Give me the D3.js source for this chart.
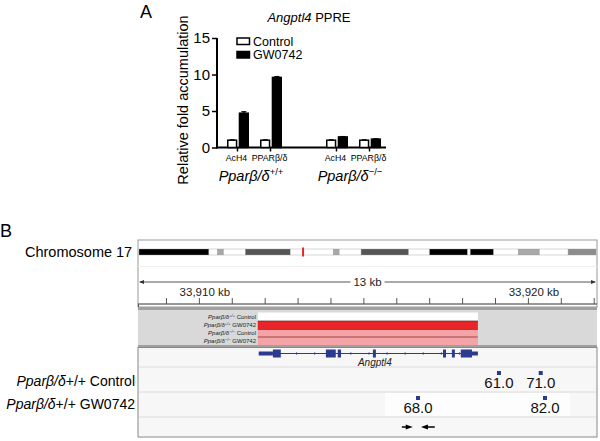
<!DOCTYPE html>
<html>
<head>
<meta charset="utf-8">
<script src="https://cdn.jsdelivr.net/npm/d3@7"></script>
<style>
  body { margin: 0; background: #fff; }
  svg { font-family: "Liberation Sans", Arial, sans-serif; display: block; }
</style>
</head>
<body>
<svg id="fig" width="600" height="441"></svg>
<script>
// ---------- panel A data ----------
var slots = ["wt_AcH4", "wt_PPAR", "gap", "ko_AcH4", "ko_PPAR"];
var slotLabels = ["AcH4", "PPARβ/δ", "", "AcH4", "PPARβ/δ"];
var series = ["Control", "GW0742"];
var controlValues = [1.0, 1.0, null, 1.0, 1.0];
var controlErr = [0.05, 0.05, null, 0.05, 0.05];
var gwValues = [4.7, 9.6, null, 1.45, 1.15];
var gwErr = [0.2, 0.12, null, 0.05, 0.05];
var yTicks = [0, 5, 10, 15];

// ---------- panel B data ----------
// chromosome 17 ideogram bands, in % of chromosome length
var bandStart = [0, 15.3, 17.2, 18.5, 23.3, 33.1, 42.5, 43.8, 48.6, 59.0, 63.6, 71.9, 72.5, 77.6, 83.0, 87.6, 93.9];
var bandEnd   = [15.3, 17.2, 18.5, 23.3, 33.1, 42.5, 43.8, 48.6, 59.0, 63.6, 71.9, 72.5, 77.6, 83.0, 87.6, 93.9, 100];
var bandShade = ["#000", "#fff", "#a8a8a8", "#fff", "#555", "#fff", "#a8a8a8", "#fff", "#555", "#fff", "#000", "#fff", "#000", "#fff", "#a8a8a8", "#fff", "#8c8c8c"];
var locusMark = 35.9;

// genome view (kb)
var viewStart = 33908.15, viewEnd = 33922.1;
var rulerTicks = [33909, 33910, 33911, 33912, 33913, 33914, 33915, 33916, 33917, 33918, 33919, 33920, 33921, 33922];
var rulerLabels = [33910, 33920];

var trackNames = ["Control", "GW0742", "Control", "GW0742"];
var trackGeno = ["+/+", "+/+", "−/−", "−/−"];
var trackFill = ["#ffffff", "#e8262a", "#f4a4a6", "#f4a4a6"];
var regionStart = 33911.79, regionEnd = 33918.48;

var geneStart = 33911.82, geneEnd = 33918.48;
var utrStart = [33911.82, 33918.30];
var utrEnd   = [33912.25, 33918.48];
var exonStart = [33912.25, 33913.86, 33914.22, 33915.29, 33917.42, 33917.69, 33917.96];
var exonEnd   = [33912.49, 33914.16, 33914.32, 33915.38, 33917.51, 33917.78, 33918.30];

var peakRow = ["Control", "Control", "GW0742", "GW0742"];
var peakPos = [33919.12, 33920.39, 33916.66, 33920.52];
var peakScore = [61.0, 71.0, 68.0, 82.0];

var primerStart = [33916.17, 33917.17];
var primerEnd   = [33916.50, 33916.75];

var svg = d3.select("#fig");

// =============== Panel A ===============
svg.append("text").attr("x", 140).attr("y", 18).attr("font-size", 18).text("A");

var y = d3.scaleLinear().domain([0, 15]).range([147.5, 38]);
var x = d3.scaleBand().domain(slots).range([221, 386]);
var xs = d3.scaleBand().domain(series).range([6, 28]).paddingInner(0.12);

var gA = svg.append("g");

// title
var title = gA.append("text").attr("x", 309).attr("y", 22).attr("text-anchor", "middle").attr("font-size", 13);
title.append("tspan").attr("font-style", "italic").text("Angptl4");
title.append("tspan").text(" PPRE");

// y axis
var yAxis = gA.append("g").attr("transform", "translate(217,0)")
    .call(d3.axisLeft(y).tickValues(yTicks).tickSize(5).tickPadding(2));
yAxis.select(".domain").attr("stroke-width", 2).attr("d", "M0," + y(15) + "V" + (y(0) + 1));
yAxis.selectAll(".tick line").attr("stroke-width", 1.5);
yAxis.selectAll("text").attr("font-size", 15).attr("font-family", "Liberation Sans, Arial, sans-serif");

gA.append("text")
    .attr("transform", "translate(188,100) rotate(-90)")
    .attr("text-anchor", "middle").attr("font-size", 14.5)
    .text("Relative fold accumulation");

// x axis line
gA.append("line").attr("x1", 216).attr("x2", 386).attr("y1", y(0)).attr("y2", y(0))
    .attr("stroke", "#000").attr("stroke-width", 2);
slots.forEach(function(s, i) {
  if (s === "gap") return;
  var cx = x(s) + x.bandwidth() / 2;
  gA.append("line").attr("x1", cx).attr("x2", cx).attr("y1", y(0)).attr("y2", y(0) + 4)
      .attr("stroke", "#000").attr("stroke-width", 1.5);
  gA.append("text").attr("x", cx - 1).attr("y", 161).attr("text-anchor", "middle")
      .attr("font-size", 8.8).text(slotLabels[i]);
});

// bars
var barData = [];
slots.forEach(function(s, i) {
  if (s === "gap") return;
  barData.push({slot: s, key: "Control", v: controlValues[i], e: controlErr[i]});
  barData.push({slot: s, key: "GW0742", v: gwValues[i], e: gwErr[i]});
});

var bars = gA.append("g").selectAll("g").data(barData).enter().append("g")
    .attr("transform", function(d) { return "translate(" + (x(d.slot) + xs(d.key)) + ",0)"; });
bars.append("line")
    .attr("x1", xs.bandwidth() / 2).attr("x2", xs.bandwidth() / 2)
    .attr("y1", function(d) { return y(d.v); }).attr("y2", function(d) { return y(d.v + d.e); })
    .attr("stroke", "#000").attr("stroke-width", 1.2);
bars.append("line")
    .attr("x1", xs.bandwidth() / 2 - 2.5).attr("x2", xs.bandwidth() / 2 + 2.5)
    .attr("y1", function(d) { return y(d.v + d.e); }).attr("y2", function(d) { return y(d.v + d.e); })
    .attr("stroke", "#000").attr("stroke-width", 1.2);
bars.append("rect")
    .attr("x", 0.75).attr("width", xs.bandwidth() - 1.5)
    .attr("y", function(d) { return y(d.v); })
    .attr("height", function(d) { return y(0) - y(d.v); })
    .attr("fill", function(d) { return d.key === "Control" ? "#fff" : "#000"; })
    .attr("stroke", "#000").attr("stroke-width", 1.5);

// legend
series.forEach(function(s, i) {
  var ly = 38 + i * 13.5;
  gA.append("rect").attr("x", 237).attr("y", ly).attr("width", 12.5).attr("height", 6.5)
      .attr("fill", i === 0 ? "#fff" : "#000").attr("stroke", "#000").attr("stroke-width", 1.5);
  gA.append("text").attr("x", 253).attr("y", ly + 7.5).attr("font-size", 12.5).text(s);
});

// genotype labels
function genoLabel(g, cx, cy, sup, size, supSize) {
  var t = g.append("text").attr("x", cx).attr("y", cy).attr("text-anchor", "middle").attr("font-size", size);
  t.append("tspan").attr("font-style", "italic").text("Pparβ/δ");
  t.append("tspan").attr("font-size", supSize).attr("dy", -size * 0.4).text(sup);
  return t;
}
genoLabel(gA, (x("wt_AcH4") + x("wt_PPAR") + x.bandwidth()) / 2 - 3, 181, "+/+", 14.5, 9.5);
genoLabel(gA, (x("ko_AcH4") + x("ko_PPAR") + x.bandwidth()) / 2 - 3, 181, "−/−", 14.5, 9.5);

// =============== Panel B ===============
var gB = svg.append("g");
gB.append("text").attr("x", 0).attr("y", 237).attr("font-size", 18).text("B");
gB.append("text").attr("x", 25).attr("y", 257).attr("font-size", 14.5).text("Chromosome 17");

var L = 138, R = 597;
var gx = d3.scaleLinear().domain([viewStart, viewEnd]).range([L, R]);
var cx = d3.scaleLinear().domain([0, 100]).range([L + 1, R - 1]);

// frame of ideogram + ruler panel
gB.append("rect").attr("x", L).attr("y", 240).attr("width", R - L).attr("height", 67)
    .attr("fill", "#fff").attr("stroke", "#999").attr("stroke-width", 1);
gB.append("line").attr("x1", L).attr("x2", R).attr("y1", 266.5).attr("y2", 266.5)
    .attr("stroke", "#eee");

// ideogram
gB.append("g").selectAll("rect").data(bandStart).enter().append("rect")
    .attr("x", function(d) { return cx(d); })
    .attr("width", function(d, i) { return cx(bandEnd[i]) - cx(d); })
    .attr("y", 249).attr("height", 6)
    .attr("fill", function(d, i) { return bandShade[i]; })
    .attr("stroke", "#999").attr("stroke-width", 0.4);
gB.append("rect").attr("x", cx(locusMark) - 1).attr("y", 247.5).attr("width", 2).attr("height", 9)
    .attr("fill", "#e8262a");

// ruler span arrow
var rulerY = 282;
gB.append("line").attr("x1", L + 2).attr("x2", R - 2).attr("y1", rulerY).attr("y2", rulerY)
    .attr("stroke", "#555").attr("stroke-width", 1);
gB.append("path").attr("d", "M" + (L + 1) + "," + rulerY + "l5,-2v4z").attr("fill", "#333");
gB.append("path").attr("d", "M" + (R - 1) + "," + rulerY + "l-5,-2v4z").attr("fill", "#333");
var mid = (L + R) / 2;
gB.append("rect").attr("x", mid - 17).attr("y", rulerY - 6).attr("width", 34).attr("height", 12).attr("fill", "#fff");
gB.append("text").attr("x", mid).attr("y", rulerY + 4).attr("text-anchor", "middle")
    .attr("font-size", 11.5).attr("fill", "#222").text("13 kb");

// ruler axis
var rAxis = gB.append("g").attr("transform", "translate(0,304)")
    .call(d3.axisTop(gx).tickValues(rulerTicks).tickSize(6).tickFormat(""));
rAxis.select(".domain").attr("d", "M" + L + ",0H" + R).attr("stroke", "#333");
rAxis.selectAll(".tick line").attr("stroke", "#555");
rulerLabels.forEach(function(v) {
  gB.append("text").attr("x", gx(v) + 6).attr("y", 296).attr("text-anchor", "middle")
      .attr("font-size", 11.5).attr("fill", "#222").text(d3.format(",")(v) + " kb");
});
gB.append("line").attr("x1", L + 0.5).attr("x2", L + 0.5).attr("y1", 304).attr("y2", 309).attr("stroke", "#555");

// separator
gB.append("rect").attr("x", L).attr("y", 307).attr("width", R - L).attr("height", 3).attr("fill", "#a0a0a0");

// data tracks panel
var trackTop = 310, trackH = [8.5, 8.5, 7.5, 8.5];
gB.append("rect").attr("x", L).attr("y", trackTop).attr("width", R - L).attr("height", 35)
    .attr("fill", "#d9d9d9");
var ty = [];
var acc = trackTop + 2.5;
trackH.forEach(function(h) { ty.push(acc); acc += h; });

gB.append("g").selectAll("rect").data(trackFill).enter().append("rect")
    .attr("x", gx(regionStart)).attr("width", gx(regionEnd) - gx(regionStart))
    .attr("y", function(d, i) { return ty[i]; })
    .attr("height", function(d, i) { return trackH[i]; })
    .attr("fill", function(d) { return d; });
for (var i = 1; i < trackH.length; i++) {
  gB.append("line").attr("x1", gx(regionStart)).attr("x2", gx(regionEnd))
      .attr("y1", ty[i]).attr("y2", ty[i]).attr("stroke", "#7a2020").attr("stroke-width", 0.7);
}
gB.append("line").attr("x1", gx(regionStart)).attr("x2", gx(regionEnd))
    .attr("y1", acc).attr("y2", acc).attr("stroke", "#7a2020").attr("stroke-width", 0.7);

trackNames.forEach(function(n, i) {
  var t = gB.append("text").attr("x", 256).attr("y", ty[i] + trackH[i] / 2 + 2)
      .attr("text-anchor", "end").attr("font-size", 6).attr("fill", "#222");
  t.append("tspan").attr("font-style", "italic").text("Pparβ/δ");
  t.append("tspan").attr("font-size", 4).attr("dy", -2).text(trackGeno[i]);
  t.append("tspan").attr("dy", 2).text(" " + n);
});

// separator
gB.append("rect").attr("x", L).attr("y", 345).attr("width", R - L).attr("height", 2.5).attr("fill", "#a0a0a0");

// lower panel: gene, peaks, primers
var pTop = 347.5, pBot = 437;
gB.append("rect").attr("x", L).attr("y", pTop).attr("width", R - L).attr("height", pBot - pTop)
    .attr("fill", "#f7f7f7").attr("stroke", "#888").attr("stroke-width", 1);
[367, 392, 417].forEach(function(yy) {
  gB.append("line").attr("x1", L + 1).attr("x2", R - 1).attr("y1", yy).attr("y2", yy)
      .attr("stroke", "#dcdcdc");
});
gB.append("rect").attr("x", 385).attr("y", 393).attr("width", 185).attr("height", 23).attr("fill", "#fdfdfd");

// gene model
var geneY = 353.5, navy = "#2b3990";
gB.append("line").attr("x1", gx(geneStart)).attr("x2", gx(geneEnd)).attr("y1", geneY).attr("y2", geneY)
    .attr("stroke", navy).attr("stroke-width", 1);
d3.range(geneStart + 0.6, geneEnd - 0.2, 0.55).forEach(function(p) {
  gB.append("line").attr("x1", gx(p)).attr("x2", gx(p)).attr("y1", geneY - 1.5).attr("y2", geneY + 1.5)
      .attr("stroke", navy).attr("stroke-width", 0.6);
});
gB.append("g").selectAll("rect").data(utrStart).enter().append("rect")
    .attr("x", function(d) { return gx(d); })
    .attr("width", function(d, i) { return gx(utrEnd[i]) - gx(d); })
    .attr("y", geneY - 2).attr("height", 4).attr("fill", navy);
gB.append("g").selectAll("rect").data(exonStart).enter().append("rect")
    .attr("x", function(d) { return gx(d); })
    .attr("width", function(d, i) { return Math.max(2.5, gx(exonEnd[i]) - gx(d)); })
    .attr("y", geneY - 4).attr("height", 8).attr("fill", navy);
gB.append("text").attr("x", gx(33915.35)).attr("y", 366).attr("text-anchor", "middle")
    .attr("font-size", 10).attr("font-style", "italic").attr("fill", "#222").text("Angptl4");

// row labels
[["+/+ Control", 386], ["+/+ GW0742", 409]].forEach(function(r) {
  var t = gB.append("text").attr("x", 135).attr("y", r[1]).attr("text-anchor", "end").attr("font-size", 14);
  t.append("tspan").attr("font-style", "italic").text("Pparβ/δ");
  t.append("tspan").text(r[0]);
});

// peaks
var rowTopY = {"Control": 371, "GW0742": 396};
peakPos.forEach(function(p, i) {
  var yy = rowTopY[peakRow[i]];
  gB.append("rect").attr("x", gx(p) - 2).attr("y", yy).attr("width", 4).attr("height", 4).attr("fill", navy);
  gB.append("text").attr("x", gx(p)).attr("y", yy + 17).attr("text-anchor", "middle")
      .attr("font-size", 15).attr("fill", "#111").text(d3.format(".1f")(peakScore[i]));
});

// primers
primerStart.forEach(function(s, i) {
  var x0 = gx(s), x1 = gx(primerEnd[i]), dir = x1 > x0 ? 1 : -1;
  gB.append("line").attr("x1", x0).attr("x2", x1 - dir * 6).attr("y1", 427).attr("y2", 427)
      .attr("stroke", "#000").attr("stroke-width", 1.5);
  gB.append("path").attr("d", "M" + x1 + ",427l" + (-dir * 7) + ",-2.5v5z").attr("fill", "#000");
});
</script>
</body>
</html>
